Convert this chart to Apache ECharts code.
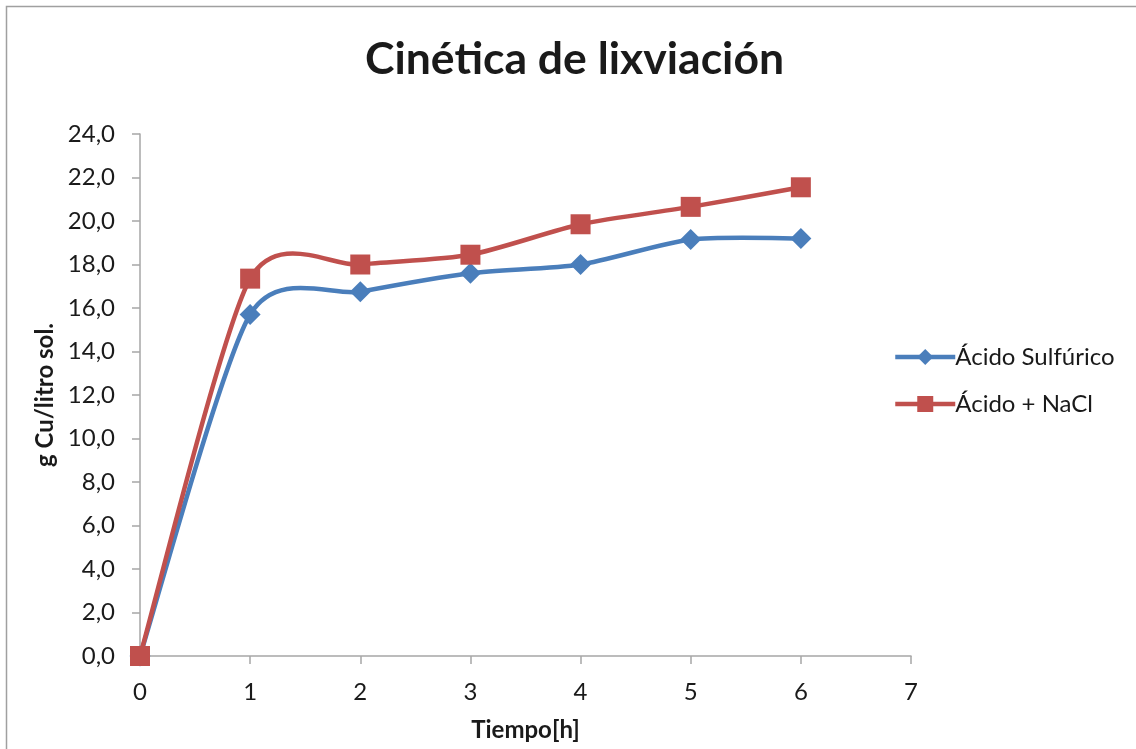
<!DOCTYPE html>
<html>
<head>
<meta charset="utf-8">
<title>Cinética de lixviación</title>
<script src="https://cdn.jsdelivr.net/npm/echarts@6/dist/echarts.min.js"></script>
<style>
  html, body { margin: 0; padding: 0; background: #fff; }
  #chart { width: 1136px; height: 749px; }
</style>
</head>
<body>
<div id="chart"></div>
<script>
// Leaching time (h) and dissolved copper (g Cu / litro sol.)
const tiempo = [0, 1, 2, 3, 4, 5, 6];
const acidoSulfurico = [0, 15.7, 16.75, 17.6, 18.0, 19.15, 19.2];
const acidoNaCl = [0, 17.35, 18.0, 18.45, 19.85, 20.65, 21.55];
const seriesNames = ['Ácido Sulfúrico', 'Ácido + NaCl'];

const FONT = 'Lato, "Open Sans", sans-serif';
const AXIS_GRAY = '#a6a6a6';
const TEXT = '#1a1a1a';
const BLUE = '#4a7ebb';
const RED = '#c0504d';
const TENSION = 0.125;

const pairs = ys => tiempo.map((t, i) => [t, ys[i]]);

// Spreadsheet-style smoothed curve: one cubic Bezier per segment, with
// control points taken from the neighbouring points (Catmull-Rom tangents).
function smoothCurve(ys, color) {
  return function (params, api) {
    const i = params.dataIndex;
    const n = tiempo.length;
    if (i >= n - 1) return null;
    const P = k => api.coord([tiempo[Math.max(0, Math.min(n - 1, k))], ys[Math.max(0, Math.min(n - 1, k))]]);
    const p0 = P(i - 1), p1 = P(i), p2 = P(i + 1), p3 = P(i + 2);
    return {
      type: 'bezierCurve',
      shape: {
        x1: p1[0], y1: p1[1],
        cpx1: p1[0] + (p2[0] - p0[0]) * TENSION,
        cpy1: p1[1] + (p2[1] - p0[1]) * TENSION,
        cpx2: p2[0] - (p3[0] - p1[0]) * TENSION,
        cpy2: p2[1] - (p3[1] - p1[1]) * TENSION,
        x2: p2[0], y2: p2[1]
      },
      style: { fill: 'none', stroke: color, lineWidth: 4.5, lineCap: 'round' },
      silent: true
    };
  };
}

const chart = echarts.init(document.getElementById('chart'), null, { renderer: 'canvas' });

chart.setOption({
  backgroundColor: '#ffffff',
  animation: false,
  textStyle: { fontFamily: FONT },
  graphic: [{
    type: 'rect',
    shape: { x: 6.5, y: 6.5, width: 1200, height: 800 },
    style: { fill: 'none', stroke: '#a0a0a0', lineWidth: 1.5 },
    silent: true
  }],
  title: {
    text: 'Cinética de lixviación',
    left: 365,
    top: 37,
    padding: 0,
    textStyle: { fontFamily: FONT, fontSize: 44.5, fontWeight: 'bold', color: TEXT }
  },
  legend: {
    orient: 'vertical',
    left: 888,
    top: 340,
    itemGap: 23,
    itemWidth: 60,
    itemHeight: 20,
    lineStyle: { width: 4.5, opacity: 1 },
    textStyle: { fontFamily: FONT, fontSize: 24, color: TEXT, padding: [0, 0, 0, -5] },
    data: seriesNames
  },
  grid: { left: 140, right: 225, top: 134, bottom: 93, containLabel: false },
  xAxis: {
    type: 'value',
    min: 0,
    max: 7,
    interval: 1,
    name: 'Tiempo[h]',
    nameLocation: 'middle',
    nameGap: 62,
    nameTextStyle: { fontFamily: FONT, fontSize: 24, fontWeight: 'bold', color: TEXT },
    axisLine: { show: true, lineStyle: { color: AXIS_GRAY, width: 1.5 } },
    axisTick: { show: true, inside: false, length: 8, lineStyle: { color: AXIS_GRAY, width: 1.5 } },
    axisLabel: { fontFamily: FONT, fontSize: 24, color: TEXT, margin: 24 },
    splitLine: { show: false }
  },
  yAxis: {
    type: 'value',
    min: 0,
    max: 24,
    interval: 2,
    name: 'g Cu/litro sol.',
    nameLocation: 'middle',
    nameGap: 80,
    nameRotate: 90,
    nameTextStyle: { fontFamily: FONT, fontSize: 24, fontWeight: 'bold', color: TEXT },
    axisLine: { show: true, lineStyle: { color: AXIS_GRAY, width: 1.5 } },
    axisTick: { show: true, inside: false, length: 8, lineStyle: { color: AXIS_GRAY, width: 1.5 } },
    axisLabel: {
      fontFamily: FONT, fontSize: 24, color: TEXT, margin: 25,
      formatter: v => v.toFixed(1).replace('.', ',')
    },
    splitLine: { show: false }
  },
  series: [
    {
      name: 'curva-sulfurico',
      type: 'custom',
      data: pairs(acidoSulfurico),
      encode: { x: 0, y: 1 },
      renderItem: smoothCurve(acidoSulfurico, BLUE),
      z: 2
    },
    {
      name: seriesNames[0],
      type: 'line',
      data: pairs(acidoSulfurico),
      symbol: 'diamond',
      symbolSize: 21,
      color: BLUE,
      lineStyle: { color: BLUE, width: 4.5, opacity: 0 },
      itemStyle: { color: BLUE },
      z: 3
    },
    {
      name: 'curva-nacl',
      type: 'custom',
      data: pairs(acidoNaCl),
      encode: { x: 0, y: 1 },
      renderItem: smoothCurve(acidoNaCl, RED),
      z: 4
    },
    {
      name: seriesNames[1],
      type: 'line',
      data: pairs(acidoNaCl),
      symbol: 'rect',
      symbolSize: 20,
      color: RED,
      lineStyle: { color: RED, width: 4.5, opacity: 0 },
      itemStyle: { color: RED },
      z: 5
    }
  ]
});
</script>
</body>
</html>
